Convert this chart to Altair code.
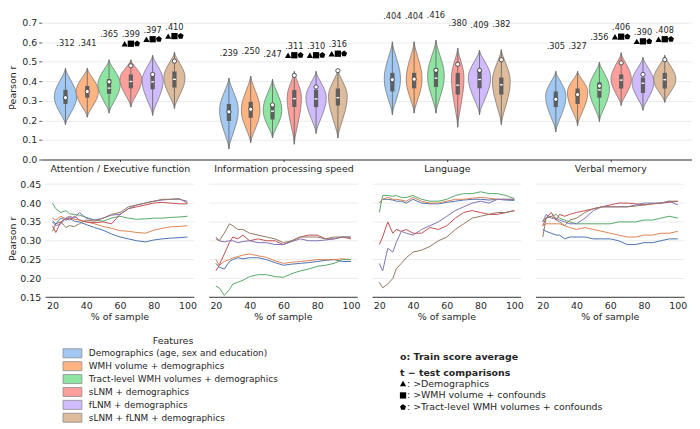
import altair as alt
import pandas as pd

# ---------------- data ----------------
GROUPS = ["Attention / Executive function", "Information processing speed",
          "Language", "Verbal memory"]
FEATURES = ["Demographics (age, sex and education)", "WMH volume + demographics",
            "Tract-level WMH volumes + demographics", "sLNM + demographics",
            "fLNM + demographics", "sLNM + fLNM + demographics"]
PASTEL = ["#a1c9f4", "#ffb482", "#8de5a1", "#ff9f9b", "#d0bbff", "#debb9b"]
DEEP = ["#4c72b0", "#dd8452", "#55a868", "#c44e52", "#8172b3", "#937860"]

# violin summaries: one list per group, six features each
TEST_MEAN = [[.312, .341, .365, .399, .397, .410],
             [.239, .250, .247, .311, .310, .316],
             [.404, .404, .416, .380, .409, .382],
             [.305, .327, .356, .406, .390, .408]]
TRAIN_MEAN = [[0.316, 0.348, 0.397, 0.479, 0.435, 0.503],
              [0.244, 0.257, 0.279, 0.430, 0.371, 0.454],
              [0.408, 0.411, 0.456, 0.487, 0.456, 0.510],
              [0.308, 0.332, 0.376, 0.494, 0.435, 0.510]]
V_MIN = [[0.178, 0.216, 0.237, 0.268, 0.225, 0.260],
         [0.054, 0.086, 0.110, 0.078, 0.133, 0.110],
         [0.229, 0.237, 0.237, 0.165, 0.229, 0.178],
         [0.141, 0.173, 0.194, 0.276, 0.252, 0.292]]
V_MAX = [[0.467, 0.467, 0.510, 0.510, 0.533, 0.549],
         [0.416, 0.427, 0.411, 0.451, 0.451, 0.459],
         [0.602, 0.602, 0.610, 0.570, 0.559, 0.562],
         [0.451, 0.451, 0.498, 0.546, 0.522, 0.533]]
V_MODE = [[0.320, 0.348, 0.384, 0.411, 0.403, 0.419],
          [0.252, 0.252, 0.252, 0.316, 0.316, 0.324],
          [0.411, 0.411, 0.427, 0.419, 0.419, 0.400],
          [0.324, 0.343, 0.363, 0.411, 0.395, 0.411]]
V_DENS = [[1.00, 1.00, 1.00, 0.98, 0.94, 0.95],
          [0.84, 0.84, 0.84, 0.64, 0.91, 0.84],
          [0.73, 0.71, 0.75, 0.56, 1.00, 0.80],
          [0.91, 0.91, 0.91, 0.91, 0.98, 1.00]]
Q1 = [[0.284, 0.316, 0.336, 0.364, 0.359, 0.368],
      [0.197, 0.213, 0.205, 0.268, 0.268, 0.276],
      [0.348, 0.364, 0.371, 0.332, 0.364, 0.332],
      [0.268, 0.284, 0.316, 0.363, 0.340, 0.363]]
Q3 = [[0.356, 0.376, 0.411, 0.435, 0.443, 0.450],
      [0.284, 0.295, 0.279, 0.356, 0.356, 0.363],
      [0.443, 0.443, 0.467, 0.443, 0.459, 0.419],
      [0.348, 0.363, 0.395, 0.435, 0.419, 0.443]]
SIG = [[0, 0, 0, 1, 1, 1],
       [0, 0, 0, 1, 1, 1],
       [0, 0, 0, 0, 0, 0],
       [0, 0, 0, 1, 1, 1]]

PCT = [20, 22, 25, 28, 30, 33, 36, 40, 45, 50, 55, 60, 65, 70, 75, 80, 85, 90, 95, 100]
CURVE_ATT = [
    [0.353, 0.345, 0.360, 0.355, 0.360, 0.352, 0.350, 0.343, 0.335, 0.328, 0.318, 0.310, 0.305, 0.300, 0.297, 0.302, 0.305, 0.307, 0.308, 0.310],
    [0.360, 0.355, 0.365, 0.358, 0.362, 0.357, 0.355, 0.350, 0.345, 0.338, 0.333, 0.327, 0.325, 0.322, 0.320, 0.328, 0.333, 0.337, 0.338, 0.340],
    [0.400, 0.385, 0.375, 0.380, 0.372, 0.370, 0.368, 0.362, 0.355, 0.352, 0.360, 0.365, 0.360, 0.357, 0.358, 0.360, 0.360, 0.362, 0.363, 0.365],
    [0.340, 0.322, 0.350, 0.360, 0.355, 0.365, 0.355, 0.350, 0.348, 0.350, 0.345, 0.370, 0.385, 0.390, 0.395, 0.400, 0.402, 0.400, 0.398, 0.398],
    [0.350, 0.340, 0.345, 0.360, 0.365, 0.360, 0.375, 0.360, 0.355, 0.360, 0.368, 0.370, 0.385, 0.395, 0.400, 0.405, 0.408, 0.410, 0.410, 0.405],
    [0.325, 0.345, 0.350, 0.335, 0.340, 0.338, 0.345, 0.355, 0.352, 0.360, 0.370, 0.375, 0.390, 0.395, 0.400, 0.405, 0.410, 0.410, 0.412, 0.400],
]
CURVE_INFO = [
    [0.240, 0.230, 0.225, 0.245, 0.250, 0.255, 0.252, 0.255, 0.255, 0.250, 0.242, 0.235, 0.238, 0.240, 0.242, 0.245, 0.248, 0.250, 0.245, 0.245],
    [0.250, 0.235, 0.245, 0.250, 0.255, 0.258, 0.262, 0.265, 0.260, 0.256, 0.247, 0.240, 0.243, 0.245, 0.247, 0.250, 0.250, 0.250, 0.252, 0.250],
    [0.180, 0.175, 0.155, 0.170, 0.185, 0.190, 0.195, 0.205, 0.210, 0.210, 0.205, 0.203, 0.213, 0.220, 0.225, 0.232, 0.235, 0.240, 0.250, 0.250],
    [0.220, 0.235, 0.265, 0.295, 0.310, 0.305, 0.315, 0.300, 0.305, 0.300, 0.300, 0.290, 0.300, 0.310, 0.315, 0.315, 0.305, 0.305, 0.310, 0.305],
    [0.310, 0.300, 0.297, 0.300, 0.300, 0.295, 0.298, 0.300, 0.295, 0.295, 0.290, 0.290, 0.298, 0.305, 0.300, 0.300, 0.302, 0.305, 0.310, 0.310],
    [0.305, 0.300, 0.320, 0.345, 0.340, 0.330, 0.330, 0.320, 0.315, 0.310, 0.305, 0.295, 0.300, 0.310, 0.310, 0.310, 0.305, 0.310, 0.310, 0.310],
]
CURVE_LANG = [
    [0.400, 0.410, 0.410, 0.408, 0.405, 0.405, 0.400, 0.410, 0.400, 0.398, 0.398, 0.402, 0.405, 0.408, 0.410, 0.410, 0.408, 0.410, 0.408, 0.407],
    [0.400, 0.410, 0.415, 0.410, 0.410, 0.408, 0.405, 0.415, 0.405, 0.400, 0.400, 0.405, 0.410, 0.410, 0.413, 0.415, 0.413, 0.410, 0.410, 0.410],
    [0.375, 0.420, 0.420, 0.418, 0.420, 0.415, 0.415, 0.420, 0.410, 0.405, 0.405, 0.410, 0.420, 0.425, 0.425, 0.430, 0.425, 0.425, 0.420, 0.412],
    [0.290, 0.310, 0.350, 0.320, 0.330, 0.325, 0.330, 0.320, 0.320, 0.335, 0.330, 0.340, 0.360, 0.375, 0.380, 0.375, 0.370, 0.370, 0.375, 0.380],
    [0.240, 0.220, 0.280, 0.270, 0.295, 0.325, 0.320, 0.315, 0.330, 0.340, 0.350, 0.365, 0.380, 0.390, 0.400, 0.405, 0.400, 0.410, 0.410, 0.410],
    [0.190, 0.175, 0.185, 0.200, 0.225, 0.240, 0.255, 0.270, 0.275, 0.285, 0.300, 0.310, 0.330, 0.345, 0.360, 0.365, 0.370, 0.375, 0.375, 0.380],
]
CURVE_VERB = [
    [0.330, 0.325, 0.320, 0.315, 0.315, 0.305, 0.310, 0.310, 0.310, 0.305, 0.305, 0.305, 0.300, 0.290, 0.290, 0.295, 0.295, 0.300, 0.305, 0.305],
    [0.340, 0.345, 0.345, 0.345, 0.345, 0.340, 0.335, 0.330, 0.335, 0.330, 0.325, 0.320, 0.315, 0.310, 0.310, 0.315, 0.315, 0.320, 0.320, 0.325],
    [0.350, 0.360, 0.365, 0.370, 0.360, 0.355, 0.350, 0.345, 0.345, 0.345, 0.345, 0.345, 0.350, 0.350, 0.350, 0.355, 0.355, 0.360, 0.365, 0.360],
    [0.340, 0.360, 0.375, 0.355, 0.370, 0.365, 0.370, 0.375, 0.380, 0.385, 0.390, 0.395, 0.400, 0.400, 0.398, 0.395, 0.398, 0.400, 0.402, 0.405],
    [0.350, 0.370, 0.360, 0.360, 0.355, 0.350, 0.345, 0.345, 0.360, 0.380, 0.390, 0.390, 0.390, 0.390, 0.395, 0.400, 0.400, 0.400, 0.405, 0.395],
    [0.310, 0.360, 0.365, 0.355, 0.350, 0.340, 0.355, 0.360, 0.375, 0.385, 0.390, 0.390, 0.390, 0.390, 0.392, 0.395, 0.398, 0.400, 0.405, 0.405],
]
CURVES = [CURVE_ATT, CURVE_INFO, CURVE_LANG, CURVE_VERB]

TOP_Y_TICKS = [0.0, 0.1, 0.2, 0.3, 0.4, 0.5, 0.6, 0.7]
BOT_Y_TICKS = [0.15, 0.2, 0.25, 0.3, 0.35, 0.4, 0.45]
PCT_TICKS = [20, 40, 60, 80, 100]

# ---------------- layout constants ----------------
FONT = "DejaVu Sans"
TXT = "#262626"
W = 656
X_DOM = [-0.4788, 3.5]
TOP_H, BOT_H, LEG_H = 146, 119, 98
DODGE = 0.8 / 6
MAX_HALF = 0.068
BOX_HALF = 0.013
MED_HALF = 0.009
PANEL_HALF = 0.4545
PCT_K = PANEL_HALF / 44.0
PROF_F = [0.0, 0.15, 0.35, 0.55, 0.72, 0.86, 1.0]
PROF_W = [1.0, 0.96, 0.78, 0.52, 0.28, 0.1, 0.0]
PENTAGON = "M0,-1L0.951,-0.309L0.588,0.809L-0.588,0.809L-0.951,-0.309Z"
SHAPES = ["triangle-up", "square", PENTAGON]
SHAPE_DX = [-0.038, 0.0, 0.038]

# ---------------- build tables ----------------
stat_rows, outline_rows, marker_rows = [], [], []
for gi in range(len(GROUPS)):
    for fi in range(len(FEATURES)):
        pos = gi + (fi - 2.5) * DODGE
        lo, hi, mode = V_MIN[gi][fi], V_MAX[gi][fi], V_MODE[gi][fi]
        hw = MAX_HALF * V_DENS[gi][fi]
        vid = f"{gi}-{fi}"
        stat_rows.append(dict(
            vid=vid, pos=pos, bl=pos - BOX_HALF, br=pos + BOX_HALF,
            ml=pos - MED_HALF, mr=pos + MED_HALF, vmin=lo, vmax=hi,
            q1=Q1[gi][fi], q3=Q3[gi][fi], med=TEST_MEAN[gi][fi],
            train=TRAIN_MEAN[gi][fi], label=f"{TEST_MEAN[gi][fi]:.3f}"[1:]))
        pts = [(mode - f * (mode - lo), w) for f, w in zip(PROF_F[::-1], PROF_W[::-1])]
        pts += [(mode + f * (hi - mode), w) for f, w in zip(PROF_F[1:], PROF_W[1:])]
        for yv, w in pts:
            outline_rows.append(dict(vid=vid, yv=yv, xl=pos - hw * w,
                                     xr=pos + hw * w, fillc=PASTEL[fi]))
        if SIG[gi][fi]:
            for shp, dx in zip(SHAPES, SHAPE_DX):
                marker_rows.append(dict(vid=vid, x=pos + dx, top=hi, shape=shp))

stats = pd.DataFrame(stat_rows)
outline = pd.DataFrame(outline_rows)
markers = pd.DataFrame(marker_rows)

line_rows = []
for gi, g in enumerate(GROUPS):
    for fi, f in enumerate(FEATURES):
        for p, r in zip(PCT, CURVES[gi][fi]):
            line_rows.append(dict(gi=gi, sid=f"{gi}-{fi}", fi=fi, pct=p, r=r, strokec=DEEP[fi]))
lines = pd.DataFrame(line_rows)
panels = pd.DataFrame({"gi": list(range(len(GROUPS))), "t": ["% of sample"] * len(GROUPS)})
grid_rows = [dict(gi=gi, v=v) for gi in range(len(GROUPS)) for v in BOT_Y_TICKS[1:]]
grid = pd.DataFrame(grid_rows)

# ---------------- top chart (violins) ----------------
xs = alt.Scale(domain=X_DOM, nice=False, zero=False)
ys = alt.Scale(domain=[0, 0.74], nice=False, zero=False)
label_expr = "[" + ",".join("'" + g + "'" for g in GROUPS) + "][round(datum.value)]"
x_axis = alt.Axis(values=[0, 1, 2, 3], labelExpr=label_expr, title=None, grid=False,
                  domain=True, domainColor="#333333", domainWidth=1, tickSize=2,
                  tickColor="#333333", labelFontSize=9.5, labelPadding=2, labelAngle=0,
                  labelColor=TXT, labelFlush=False)
y_axis = alt.Axis(values=TOP_Y_TICKS, format=".1f", title="Pearson r", grid=True,
                  gridColor="#e6e6e6", gridWidth=0.8, domain=False, tickSize=3,
                  tickColor="#555555", labelFontSize=9.5, labelPadding=2,
                  labelColor=TXT, titleFontSize=9.5, titleFontWeight="normal",
                  titleColor=TXT, titlePadding=2, minExtent=22, maxExtent=22)


def TX(f):
    return alt.X(f, type="quantitative", scale=xs, axis=x_axis, stack=None)


def TY(f):
    return alt.Y(f, type="quantitative", scale=ys, axis=y_axis, stack=None)


violins = alt.Chart(outline).mark_area(
    orient="horizontal", interpolate="monotone", stroke="#7a7a7a", strokeWidth=0.8,
    opacity=1
).encode(y=TY("yv"), x=TX("xl"), x2="xr", fill=alt.Fill("fillc:N", scale=None),
         detail="vid:N")

base = alt.Chart(stats)
whisk = base.mark_rule(color="#6a6a6a", strokeWidth=0.9).encode(x=TX("pos"), y=TY("vmin"), y2="vmax")
box = base.mark_rect(color="#5f5f5f").encode(x=TX("bl"), x2="br", y=TY("q1"), y2="q3")
med = base.mark_rule(color="white", strokeWidth=1.3).encode(x=TX("ml"), x2="mr", y=TY("med"))
train = base.mark_point(shape="circle", filled=True, fill="white", stroke="#333333",
                        strokeWidth=0.8, size=18, opacity=1).encode(x=TX("pos"), y=TY("train"))
labels = base.transform_calculate(ly="datum.vmax + 0.125").mark_text(
    font=FONT, fontSize=8.3, color=TXT, baseline="middle"
).encode(x=TX("pos"), y=TY("ly"), text="label:N")
sig = alt.Chart(markers).transform_calculate(my="datum.top + 0.082").mark_point(
    filled=True, color="black", size=40, opacity=1
).encode(x=TX("x"), y=TY("my"), shape=alt.Shape("shape:N", scale=None))

top = alt.layer(violins, whisk, box, med, train, sig, labels).properties(width=W, height=TOP_H)

# ---------------- bottom chart (learning curves) ----------------
bys = alt.Scale(domain=[0.15, 0.463], nice=False, zero=False)
bx_vals = [gi + (p - 60) * PCT_K for gi in range(len(GROUPS)) for p in PCT_TICKS]
bx_axis = alt.Axis(values=bx_vals, labelExpr=f"format((datum.value - round(datum.value)) / {PCT_K} + 60, '.0f')",
                   title=None, grid=False, domain=False, ticks=False, labelFontSize=9.5,
                   labelPadding=3, labelColor=TXT, labelFlush=False, labelOverlap=False)
by_axis = alt.Axis(values=BOT_Y_TICKS, format=".2f", title="Pearson r", grid=False,
                   domain=False, ticks=False, labelFontSize=9.5, labelPadding=1,
                   labelColor=TXT, titleFontSize=9.5, titleFontWeight="normal",
                   titleColor=TXT, titlePadding=2, minExtent=22, maxExtent=22)


def BX(f):
    return alt.X(f, type="quantitative", scale=xs, axis=bx_axis, stack=None)


def BY(f):
    return alt.Y(f, type="quantitative", scale=bys, axis=by_axis, stack=None)


gridlines = alt.Chart(grid).transform_calculate(
    a=f"datum.gi - {PANEL_HALF}", b=f"datum.gi + {PANEL_HALF}"
).mark_rule(color="#e6e6e6", strokeWidth=0.8).encode(x=BX("a"), x2="b", y=BY("v"))
spines = alt.Chart(panels).transform_calculate(
    a=f"datum.gi - {PANEL_HALF}", b=f"datum.gi + {PANEL_HALF}", v="0.15"
).mark_rule(color="#333333", strokeWidth=1).encode(x=BX("a"), x2="b", y=BY("v"))
curves = alt.Chart(lines).transform_calculate(
    xx=f"datum.gi + (datum.pct - 60) * {PCT_K}"
).mark_line(strokeWidth=1).encode(
    x=BX("xx"), y=BY("r"), stroke=alt.Stroke("strokec:N", scale=None),
    detail="sid:N", order=alt.Order("pct:Q"))
xtitles = alt.Chart(panels).mark_text(font=FONT, fontSize=9.5, color=TXT, baseline="middle").encode(
    x=BX("gi"), y=alt.value(BOT_H + 20), text="t:N")

bottom = alt.layer(gridlines, spines, curves, xtitles).properties(width=W, height=BOT_H)

# ---------------- legend / annotation block ----------------
LX, LY = 41.5, 327
leg_df = pd.DataFrame({"feature": FEATURES, "fillc": PASTEL})
band = alt.Y("feature:N", sort=FEATURES, axis=None,
             scale=alt.Scale(domain=FEATURES, range=[20, 98], paddingInner=0.3, paddingOuter=0.15))
patches = alt.Chart(leg_df).mark_rect(stroke="#8c8c8c", strokeWidth=0.8).encode(
    y=band, x=alt.value(63 - LX), x2=alt.value(82 - LX), fill=alt.Fill("fillc:N", scale=None))
names = alt.Chart(leg_df).mark_text(font=FONT, fontSize=9, color=TXT, align="left", baseline="middle").encode(
    y=band, x=alt.value(89 - LX), text="feature:N")
leg_title = alt.Chart(pd.DataFrame({"t": ["Features"]})).mark_text(
    font=FONT, fontSize=9.5, color=TXT, align="center", baseline="middle").encode(
    x=alt.value(174 - LX), y=alt.value(341 - LY), text="t:N")


def note(txt, px, py, bold=False):
    return alt.Chart(pd.DataFrame({"t": [txt]})).mark_text(
        font=FONT, fontSize=9.5, color=TXT, align="left", baseline="middle",
        fontWeight="bold" if bold else "normal").encode(
        x=alt.value(px - LX), y=alt.value(py - LY), text="t:N")


def glyph(shape, px, py):
    return alt.Chart(pd.DataFrame({"t": [0]})).mark_point(
        shape=shape, filled=True, color="black", size=40, opacity=1).encode(
        x=alt.value(px - LX), y=alt.value(py - LY))


notes = [
    note("o: Train score average", 403, 357, True),
    note("t − test comparisons", 403, 373, True),
    glyph("triangle-up", 406, 384), note(": >Demographics", 410, 384),
    glyph("square", 406, 396), note(": >WMH volume + confounds", 410, 396),
    glyph(PENTAGON, 406, 408), note(": >Tract-level WMH volumes + confounds", 410, 408),
]
legend = alt.layer(patches, names, leg_title, *notes).properties(width=640, height=LEG_H)

chart = alt.vconcat(top, bottom, legend, spacing=5).properties(
    padding={"left": 0, "top": 0, "right": 0, "bottom": 0}
).configure(font=FONT).configure_view(stroke="transparent", strokeWidth=0)

chart.save("out.html", embed_options={"renderer": "svg", "actions": False})
